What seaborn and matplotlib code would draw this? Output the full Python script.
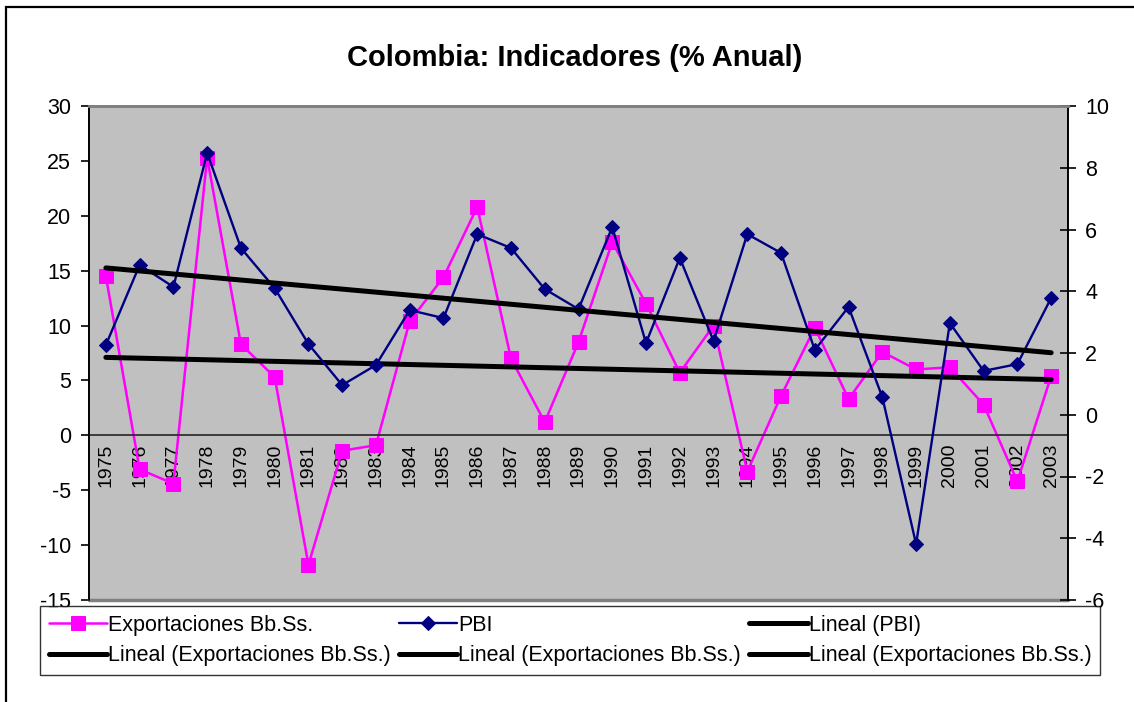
import numpy as np
import pandas as pd
import matplotlib
matplotlib.use('Agg')
import matplotlib.pyplot as plt
import seaborn as sns

# datos
years = list(range(1975, 2004))
exportaciones = [14.5, -3.1, -4.4, 25.3, 8.3, 5.3, -11.8, -1.4, -0.9, 10.4,
                 14.4, 20.8, 7.0, 1.2, 8.5, 17.6, 12.0, 5.7, 10.0, -3.3,
                 3.6, 9.8, 3.3, 7.6, 6.0, 6.2, 2.8, -4.2, 5.4]
pbi = [2.26, 4.85, 4.14, 8.48, 5.40, 4.10, 2.29, 0.96, 1.61, 3.39,
       3.13, 5.85, 5.40, 4.07, 3.42, 6.08, 2.32, 5.08, 2.39, 5.85,
       5.24, 2.10, 3.49, 0.57, -4.19, 2.97, 1.42, 1.64, 3.78]
left_ticks = list(range(-15, 31, 5))
right_ticks = list(range(-6, 11, 2))

df = pd.DataFrame({'pos': np.arange(len(years)), 'year': years,
                   'exp': exportaciones, 'pbi': pbi})

sns.set_style('white')
plt.rcParams['font.family'] = ['Liberation Sans', 'DejaVu Sans']
plt.rcParams['axes.unicode_minus'] = False
plt.rcParams['text.color'] = 'black'
plt.rcParams['xtick.color'] = 'black'
plt.rcParams['ytick.color'] = 'black'

fig = plt.figure(figsize=(11.34, 7.02), dpi=100)
ax = fig.add_axes([89/1134, 1-600/702, (1068-89)/1134, (600-106)/702])
ax.set_facecolor('#C0C0C0')
ax2 = ax.twinx()

magenta = '#FF00FF'
navy = '#000080'

# series principal (eje izquierdo)
sns.lineplot(data=df, x='pos', y='exp', ax=ax, color=magenta, lw=1.8,
             marker='s', markersize=10, markeredgecolor=magenta, legend=False)
sns.regplot(data=df, x='pos', y='exp', ax=ax, scatter=False, ci=None,
            truncate=True, line_kws={'color': 'black', 'lw': 3.6})
h_exp, h_lin_exp = ax.get_lines()[:2]

# PBI (eje derecho)
sns.lineplot(data=df, x='pos', y='pbi', ax=ax2, color=navy, lw=1.7,
             marker='D', markersize=7, markeredgecolor=navy, legend=False)
sns.regplot(data=df, x='pos', y='pbi', ax=ax2, scatter=False, ci=None,
            truncate=True, line_kws={'color': 'black', 'lw': 3.6})
h_pbi, h_lin_pbi = ax2.get_lines()[:2]

ax.set_xlim(-0.5, len(years) - 0.5)
ax.set_ylim(-15, 30)
ax2.set_ylim(-6, 10)
ax.set_yticks(left_ticks)
ax2.set_yticks(right_ticks)
ax.set_xlabel('')
ax.set_ylabel('')
ax2.set_ylabel('')

# eje de categorias cruzando en cero
ax.spines['bottom'].set_position(('data', 0))
ax.spines['bottom'].set_linewidth(1.2)
ax.set_xticks(np.arange(-0.5, len(years), 1))
ax.set_xticklabels([])
ax.set_xticks(df['pos'], minor=True)
ax.set_xticklabels([str(y) for y in years], minor=True, rotation=90, fontsize=14)
ax.tick_params(axis='x', which='major', direction='inout', length=11, width=1.2)
ax.tick_params(axis='x', which='minor', length=0, pad=6)
ax.tick_params(axis='y', direction='out', length=6, width=1.2, labelsize=15.5, pad=7)
ax2.tick_params(axis='y', direction='inout', length=11, width=1.2, labelsize=15.5, pad=7)

for a in (ax, ax2):
    a.spines['top'].set_color('#808080')
    a.spines['top'].set_linewidth(2)
    a.spines['left'].set_color('black')
    a.spines['left'].set_linewidth(1.2)
    a.spines['right'].set_color('black')
    a.spines['right'].set_linewidth(1.2)
ax2.spines['bottom'].set_visible(False)
ax.axhline(-15, color='#808080', lw=2.5, clip_on=False, zorder=5)

fig.text(575/1134, 1-58/702, 'Colombia: Indicadores (% Anual)',
         ha='center', va='center', fontsize=21, fontweight='bold')

# borde exterior
fig.add_artist(plt.Rectangle((5.5/1134, -0.1), 1.2, 1-6.5/702 + 0.1,
                             transform=fig.transFigure, fill=False,
                             edgecolor='black', lw=1.6))

handles = [h_exp, h_lin_exp, h_pbi, h_lin_exp, h_lin_pbi, h_lin_exp]
labels = ['Exportaciones Bb.Ss.', 'Lineal (Exportaciones Bb.Ss.)', 'PBI',
          'Lineal (Exportaciones Bb.Ss.)', 'Lineal (PBI)',
          'Lineal (Exportaciones Bb.Ss.)']
leg = fig.legend(handles, labels, ncol=3, loc='lower left',
                 bbox_to_anchor=(40/1134, 1-675/702, 1060/1134, 70/702),
                 mode='expand', fontsize=15.5, frameon=True, fancybox=False,
                 edgecolor='black', handlelength=2.7, handletextpad=0.05,
                 borderpad=0.4, labelspacing=0.45, borderaxespad=0)
leg.get_frame().set_linewidth(1.0)

fig.savefig('out.png', dpi=100)
